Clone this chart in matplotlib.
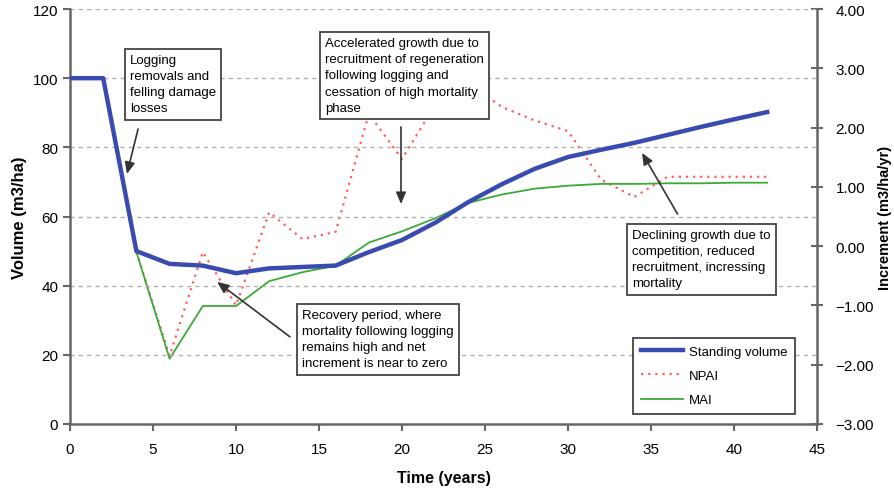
import matplotlib
matplotlib.use('Agg')
import matplotlib.pyplot as plt
from matplotlib.ticker import FuncFormatter

plt.rcParams['font.family'] = ['Liberation Sans', 'DejaVu Sans']

# values
years = [0, 2, 4, 6, 8, 10, 12, 14, 16, 18, 20, 22, 24, 26, 28, 30, 32, 34, 36, 38, 40, 42]
volume = [100, 100, 50, 46.3, 45.8, 43.6, 45.0, 45.4, 45.8, 49.7, 53.2, 58.2, 64.2,
          69.3, 73.8, 77.2, 79.3, 81.3, 83.6, 85.9, 88.1, 90.2]

inc_years = [4, 6, 8, 10, 12, 14, 16, 18, 20, 22, 24, 26, 28, 30, 32, 34, 36, 38, 40, 42]
npai = [-0.1, -1.85, -0.1, -1.0, 0.57, 0.12, 0.24, 2.23, 1.47, 2.38, 2.75, 2.35, 2.12,
        1.94, 1.12, 0.83, 1.17, 1.17, 1.17, 1.17]
mai = [-0.1, -1.9, -1.01, -1.01, -0.59, -0.44, -0.33, 0.06, 0.25, 0.47, 0.73, 0.87, 0.97,
       1.02, 1.05, 1.05, 1.06, 1.06, 1.07, 1.07]

# text, text top-left, arrow tail, arrow head (volume axis units)
notes = [
    ("Logging\nremovals and\nfelling damage\nlosses", (3.61, 106.9), (4.1, 85.3), (3.43, 72.3)),
    ("Accelerated growth due to\nrecruitment of regeneration\nfollowing logging and\n"
     "cessation of high mortality\nphase", (15.36, 111.8), (19.94, 85.9), (19.94, 63.6)),
    ("Recovery period, where\nmortality following logging\nremains high and net\n"
     "increment is near to zero", (13.98, 33.2), (13.25, 25.2), (8.86, 41.1)),
    ("Declining growth due to\ncompetition, reduced\nrecruitment, incressing\nmortality",
     (33.86, 56.3), (36.6, 60.7), (34.46, 78.4)),
]

fig = plt.figure(figsize=(8.94, 4.89), dpi=100)
ax = fig.add_axes([70 / 894, 64 / 489, 747 / 894, 415 / 489])
ax2 = ax.twinx()
ax.set_zorder(ax2.get_zorder() + 1)
ax.patch.set_visible(False)

spine_c = '#666666'

l_npai, = ax2.plot(inc_years, npai, color='#ff5c5c', lw=1.6, ls=(0, (1, 2.2)), label='NPAI')
l_mai, = ax2.plot(inc_years, mai, color='#3aaa3a', lw=1.3, label='MAI')
l_vol, = ax.plot(years, volume, color='#3a4bb0', lw=3.2, label='Standing volume', zorder=3)

ax.set_xlim(0, 45)
ax.set_ylim(0, 120)
ax2.set_ylim(-3, 4)
ax.set_xticks(range(0, 46, 5))
ax.set_yticks(range(0, 121, 20))
ax2.set_yticks(range(-3, 5))
ax2.yaxis.set_major_formatter(FuncFormatter(lambda v, p: f"{v:.2f}".replace('-', '\u2212')))

for y in range(20, 121, 20):
    ax.axhline(y, color='#b0b0b0', lw=1.0, ls=(0, (3, 3)), zorder=0)

for a in (ax, ax2):
    a.spines['top'].set_visible(False)
    for s in a.spines.values():
        s.set_color(spine_c)
        s.set_linewidth(1.8)
ax.spines['right'].set_visible(False)
ax2.spines['left'].set_visible(False)
ax2.spines['bottom'].set_visible(False)

ax.tick_params(axis='both', colors=spine_c, labelcolor='black', labelsize=11, width=1.5, length=5)
ax.tick_params(axis='x', pad=8)
ax2.tick_params(axis='y', colors=spine_c, labelcolor='black', labelsize=11, width=1.5,
                length=9, direction='inout', pad=9)

ax.set_xlabel('Time (years)', fontsize=11.5, fontweight='bold', labelpad=10)
ax.set_ylabel('Volume (m3/ha)', fontsize=12, fontweight='bold', labelpad=4)
ax2.set_ylabel('Increment (m3/ha/yr)', fontsize=10.5, fontweight='bold', labelpad=3)

for text, pos, tail, head in notes:
    ax.text(pos[0], pos[1], text, fontsize=9.5, ha='left', va='top', linespacing=1.45,
            zorder=10, bbox=dict(boxstyle='square,pad=0.4', fc='white', ec='#444444', lw=1.3))
    ax.annotate('', xy=head, xytext=tail, zorder=10,
                arrowprops=dict(arrowstyle='-|>,head_length=0.7,head_width=0.3',
                                color='#333333', lw=1.2, shrinkA=0, shrinkB=0))

leg = ax.legend(handles=[l_vol, l_npai, l_mai], loc='lower left',
                bbox_to_anchor=(0.754, 0.024), borderaxespad=0, fancybox=False,
                edgecolor='#333333', fontsize=9.5, handlelength=3.2, handletextpad=0.4,
                labelspacing=0.9, borderpad=0.6, framealpha=1)
leg.get_frame().set_linewidth(1.2)
leg.set_zorder(11)

fig.savefig('out.png', dpi=100)
